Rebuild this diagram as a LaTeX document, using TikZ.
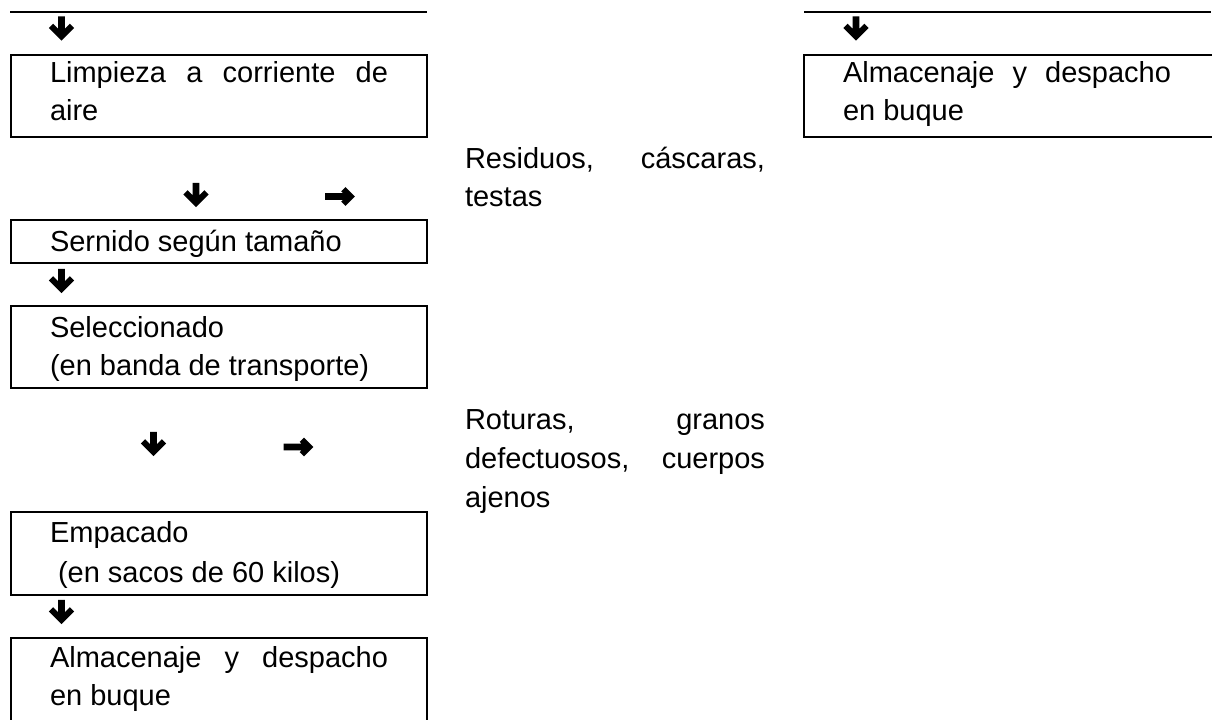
\documentclass[tikz,border=0pt]{standalone}
\usepackage{fontspec}
\setmainfont{Liberation Sans}
\begin{document}
\begin{tikzpicture}[x=1pt,y=-1pt,
  box/.style={draw, line width=1.8pt, minimum width=416pt, anchor=north west, inner sep=0pt, outer sep=0pt},
  txt/.style={anchor=base west, inner sep=0pt, outer sep=0pt, font=\fontsize{29}{38}\selectfont},
  rulel/.style={line width=1.8pt},
  darr/.pic={\fill[scale=1.1] (-3,-11) -- (3,-11) -- (3,0.22) -- (7.61,-4.39) -- (11.5,-0.5) -- (0,11) -- (-11.5,-0.5) -- (-7.61,-4.39) -- (-3,0.22) -- cycle;},
  rarr/.pic={\fill[scale=1.1] (-13.5,-3) -- (2.72,-3) -- (1.11,-4.61) -- (5,-8.5) -- (13.5,0) -- (5,8.5) -- (1.11,4.61) -- (2.72,3) -- (-13.5,3) -- cycle;}]
\useasboundingbox (0,0) rectangle (1219,720);
\clip (0,0) rectangle (1219,720);

% top rules
\coordinate (tl1) at (10,12); \coordinate (tl2) at (427,12);
\coordinate (tr1) at (804,12); \coordinate (tr2) at (1211,12);
\draw[rulel] (tl1) -- (tl2);
\draw[rulel] (tr1) -- (tr2);

% boxes
\node[box, minimum height=82pt] (limpieza) at (11,55) {};
\begin{scope}
\clip (790,0) rectangle (1211.9,720);
\node[box, minimum width=440pt, minimum height=82pt] (almR) at (804,55) {};
\end{scope}
\node[box, minimum height=43pt] (sernido) at (11,220) {};
\node[box, minimum height=82pt] (selec) at (11,306) {};
\node[box, minimum height=83pt] (empac) at (11,512) {};
\node[box, minimum height=110pt] (almL) at (11,638) {};

% texts
\node[txt] (tlimp) at (50,82) {\parbox[t]{360pt}{\makebox[338pt][s]{Limpieza a corriente de}\\aire}};
\node[txt] (talmR) at (843,82) {\parbox[t]{360pt}{\makebox[328pt][s]{Almacenaje y despacho}\\en buque}};
\node[txt] (tres) at (465,168) {\parbox[t]{320pt}{\makebox[300pt][s]{Residuos, cáscaras,}\\testas}};
\node[txt] (tsern) at (50,251) {Sernido según tamaño};
\node[txt] (tsel) at (50,337) {\parbox[t]{360pt}{Seleccionado\\(en banda de transporte)}};
\node[txt, font=\fontsize{29}{39}\selectfont] (trot) at (465,429) {\parbox[t]{320pt}{\makebox[300pt][s]{Roturas, granos}\\\makebox[300pt][s]{defectuosos, cuerpos}\\ajenos}};
\node[txt, font=\fontsize{29}{40}\selectfont] (temp) at (50,542) {\parbox[t]{360pt}{Empacado\\\hspace*{8pt}(en sacos de 60 kilos)}};
\node[txt] (talmL) at (50,667) {\parbox[t]{360pt}{\makebox[338pt][s]{Almacenaje y despacho}\\en buque}};

% arrow glyphs
\pic (a1) at (61.5,28.5) {darr};
\pic (a2) at (856,28.5) {darr};
\pic (a3) at (196,195) {darr};
\pic (a4) at (340,196.5) {rarr};
\pic (a5) at (61.5,281) {darr};
\pic (a6) at (153.5,444) {darr};
\pic (a7) at (298.5,447) {rarr};
\pic (a8) at (61.5,612) {darr};
\end{tikzpicture}
\end{document}
